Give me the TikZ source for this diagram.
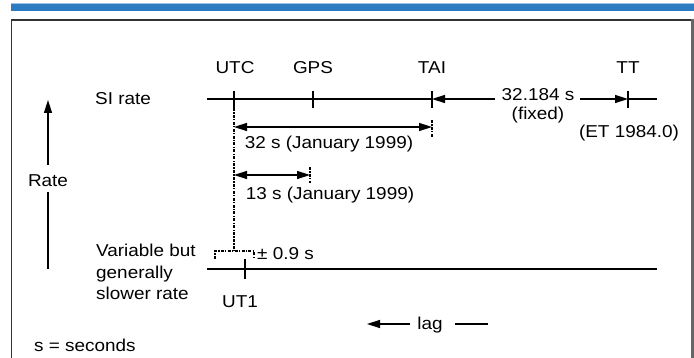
\documentclass[tikz,border=0pt]{standalone}
\usepackage{fontspec}
\setmainfont{Liberation Sans}[FakeStretch=1.1]
\usetikzlibrary{arrows.meta}
\definecolor{barblue}{HTML}{2A7BC1}
\definecolor{barlight}{HTML}{9CC3E6}
\definecolor{edgegray}{HTML}{666666}
\definecolor{edgedark}{HTML}{333333}
\tikzset{
  lbl/.style={inner sep=0pt, font=\fontsize{17.2}{21.5}\selectfont},
  axisline/.style={line width=1.5pt},
  tick/.style={line width=1.5pt},
  dimarrow/.style={line width=1.5pt, -{Triangle[length=13pt,width=8pt]}},
  dimboth/.style={line width=1.5pt, {Triangle[length=13pt,width=8pt]}-{Triangle[length=13pt,width=8pt]}},
  dashdense/.style={line width=1.3pt, dash pattern=on 3pt off 1.3pt on 1.3pt off 1.3pt},
}
\begin{document}
\begin{tikzpicture}[x=1pt,y=-1pt]
\useasboundingbox (0,0) rectangle (694,358);
% top bar and frame
\fill[barblue] (11,3.5) rectangle (694,11);
\draw[barlight, line width=0.8pt] (11,3.6) -- (694,3.6);
\draw[edgedark, line width=1.3pt] (11.7,358) -- (11.7,20) -- (692,20);
\draw[edgegray, line width=3pt] (692.5,19.3) -- (692.5,358);

% coordinates
\coordinate (siL) at (207,99);
\coordinate (siR) at (657,99);
\coordinate (utcT) at (234,91);
\coordinate (utcB) at (234,108);
\coordinate (gpsT) at (313,91);
\coordinate (gpsB) at (313,108);
\coordinate (taiT) at (432,91);
\coordinate (taiB) at (432,108);
\coordinate (taiP) at (432,99);
\coordinate (ttT) at (628,91);
\coordinate (ttB) at (628,108);
\coordinate (ttP) at (628,99);
\coordinate (lowL) at (207,269);
\coordinate (lowR) at (657,269);
\coordinate (ut1T) at (245,259);
\coordinate (ut1B) at (245,279);

% labels
\node[lbl] (utc) at (235,68) {UTC};
\node[lbl] (gps) at (313,68) {GPS};
\node[lbl] (tai) at (432,68) {TAI};
\node[lbl] (tt) at (628,68) {TT};
\node[lbl, anchor=west] (si) at (95,99) {SI rate};
\node[lbl] (l32) at (329,144) {32 s (January 1999)};
\node[lbl] (l13) at (330,195) {13 s (January 1999)};
\node[lbl] (fix) at (538,95) {32.184 s};
\node[lbl] (fixd) at (538,115) {(fixed)};
\node[lbl] (et) at (629,133) {(ET 1984.0)};
\node[lbl] (rate) at (48,181) {Rate};
\node[lbl, anchor=west, align=left] (var) at (96,272) {Variable but\\generally\\slower rate};
\node[lbl, anchor=west] (pm) at (257,254) {± 0.9 s};
\node[lbl] (ut1) at (240,302) {UT1};
\node[lbl] (lag) at (430,325) {lag};
\node[lbl, anchor=west] (sec) at (34,345) {s = seconds};

% SI rate line and ticks
\draw[axisline] (siL) -- (taiP);
\draw[axisline] (ttP) -- (siR);
\draw[tick] (utcT) -- (utcB);
\draw[tick] (gpsT) -- (gpsB);
\draw[tick] (taiT) -- (taiB);
\draw[tick] (ttT) -- (ttB);

% TAI - TT fixed offset
\coordinate (fa) at (495,99);
\coordinate (fb) at (580,99);
\draw[dimarrow] (fa) -- (taiP);
\draw[dimarrow] (fb) -- (ttP);

% 32 s dimension
\coordinate (a32L) at (234,127);
\coordinate (a32R) at (432,127);
\draw[dimboth] (a32L) -- (a32R);
\coordinate (t32T) at (432,120);
\coordinate (t32B) at (432,137);
\draw[dashdense] (t32T) -- (t32B);

% 13 s dimension
\coordinate (a13L) at (234,175);
\coordinate (a13R) at (310,175);
\draw[dimboth] (a13L) -- (a13R);
\coordinate (t13T) at (310,167);
\coordinate (t13B) at (310,183);
\draw[dashdense] (t13T) -- (t13B);

% dashed drop from UTC to bracket
\coordinate (brTop) at (234,251);
\draw[dashdense] (utcB) -- (brTop);
\coordinate (brL) at (215,259);
\coordinate (brR) at (254,259);
\draw[dashdense] (brL) |- (brTop) -| (brR);

% lower line
\draw[axisline] (lowL) -- (lowR);
\draw[tick] (ut1T) -- (ut1B);

% Rate arrow
\coordinate (rTip) at (48,100);
\coordinate (rUp) at (48,165);
\coordinate (rDn) at (48,192);
\coordinate (rBot) at (48,269);
\draw[dimarrow] (rUp) -- (rTip);
\draw[axisline] (rDn) -- (rBot);

% lag arrow
\coordinate (lagA) at (410,324);
\coordinate (lagTip) at (367,324);
\coordinate (lagB) at (455,324);
\coordinate (lagEnd) at (488,324);
\draw[dimarrow] (lagA) -- (lagTip);
\draw[axisline] (lagB) -- (lagEnd);
\end{tikzpicture}
\end{document}
